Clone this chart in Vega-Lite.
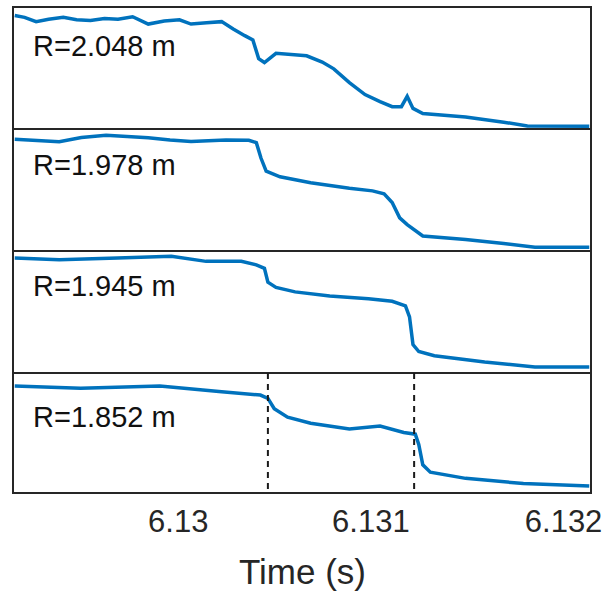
{
  "$schema": "https://vega.github.io/schema/vega-lite/v6.json",
  "padding": {"left": 12, "top": 6, "right": 0, "bottom": 0},
  "spacing": 0,
  "bounds": "flush",
  "config": {
    "view": {"stroke": "#262626", "strokeWidth": 2},
    "font": "Liberation Sans"
  },
  "datasets": {
    "curves": [
      {"panel": 1, "t": 6.129154, "v": 0.93}, {"panel": 1, "t": 6.129205, "v": 0.915}, {"panel": 1, "t": 6.129265, "v": 0.88}, {"panel": 1, "t": 6.12933, "v": 0.9}, {"panel": 1, "t": 6.129406, "v": 0.915}, {"panel": 1, "t": 6.129475, "v": 0.895}, {"panel": 1, "t": 6.129547, "v": 0.89}, {"panel": 1, "t": 6.12962, "v": 0.905}, {"panel": 1, "t": 6.12969, "v": 0.9}, {"panel": 1, "t": 6.129766, "v": 0.92}, {"panel": 1, "t": 6.129847, "v": 0.86}, {"panel": 1, "t": 6.12993, "v": 0.885}, {"panel": 1, "t": 6.130009, "v": 0.895}, {"panel": 1, "t": 6.130069, "v": 0.86}, {"panel": 1, "t": 6.13015, "v": 0.87}, {"panel": 1, "t": 6.130228, "v": 0.88}, {"panel": 1, "t": 6.130288, "v": 0.82}, {"panel": 1, "t": 6.130348, "v": 0.765}, {"panel": 1, "t": 6.13039, "v": 0.73}, {"panel": 1, "t": 6.13042, "v": 0.577}, {"panel": 1, "t": 6.13045, "v": 0.545}, {"panel": 1, "t": 6.13051, "v": 0.62}, {"panel": 1, "t": 6.130669, "v": 0.6}, {"panel": 1, "t": 6.13075, "v": 0.549}, {"panel": 1, "t": 6.13081, "v": 0.493}, {"panel": 1, "t": 6.130891, "v": 0.38}, {"panel": 1, "t": 6.130972, "v": 0.282}, {"panel": 1, "t": 6.13105, "v": 0.225}, {"panel": 1, "t": 6.131113, "v": 0.183}, {"panel": 1, "t": 6.131161, "v": 0.183}, {"panel": 1, "t": 6.131191, "v": 0.268}, {"panel": 1, "t": 6.131221, "v": 0.169}, {"panel": 1, "t": 6.131272, "v": 0.127}, {"panel": 1, "t": 6.131494, "v": 0.099}, {"panel": 1, "t": 6.131692, "v": 0.056}, {"panel": 1, "t": 6.131815, "v": 0.025}, {"panel": 1, "t": 6.132136, "v": 0.022},
      {"panel": 2, "t": 6.129154, "v": 0.916}, {"panel": 2, "t": 6.129385, "v": 0.896}, {"panel": 2, "t": 6.1295, "v": 0.93}, {"panel": 2, "t": 6.129628, "v": 0.948}, {"panel": 2, "t": 6.129847, "v": 0.928}, {"panel": 2, "t": 6.129960, "v": 0.91}, {"panel": 2, "t": 6.130069, "v": 0.898}, {"panel": 2, "t": 6.130250, "v": 0.91}, {"panel": 2, "t": 6.130369, "v": 0.908}, {"panel": 2, "t": 6.130408, "v": 0.888}, {"panel": 2, "t": 6.130432, "v": 0.762}, {"panel": 2, "t": 6.130459, "v": 0.655}, {"panel": 2, "t": 6.130531, "v": 0.608}, {"panel": 2, "t": 6.13069, "v": 0.56}, {"panel": 2, "t": 6.130891, "v": 0.515}, {"panel": 2, "t": 6.131011, "v": 0.493}, {"panel": 2, "t": 6.131071, "v": 0.468}, {"panel": 2, "t": 6.131113, "v": 0.398}, {"panel": 2, "t": 6.131152, "v": 0.272}, {"panel": 2, "t": 6.131191, "v": 0.216}, {"panel": 2, "t": 6.131272, "v": 0.123}, {"panel": 2, "t": 6.131494, "v": 0.095}, {"panel": 2, "t": 6.131692, "v": 0.062}, {"panel": 2, "t": 6.131854, "v": 0.03}, {"panel": 2, "t": 6.132136, "v": 0.03},
      {"panel": 3, "t": 6.129154, "v": 0.943}, {"panel": 3, "t": 6.129385, "v": 0.929}, {"panel": 3, "t": 6.129688, "v": 0.943}, {"panel": 3, "t": 6.129967, "v": 0.957}, {"panel": 3, "t": 6.130147, "v": 0.915}, {"panel": 3, "t": 6.13033, "v": 0.915}, {"panel": 3, "t": 6.130408, "v": 0.886}, {"panel": 3, "t": 6.13045, "v": 0.858}, {"panel": 3, "t": 6.130468, "v": 0.744}, {"panel": 3, "t": 6.13051, "v": 0.702}, {"panel": 3, "t": 6.130609, "v": 0.665}, {"panel": 3, "t": 6.130789, "v": 0.631}, {"panel": 3, "t": 6.13099, "v": 0.608}, {"panel": 3, "t": 6.131113, "v": 0.588}, {"panel": 3, "t": 6.131182, "v": 0.551}, {"panel": 3, "t": 6.131203, "v": 0.46}, {"panel": 3, "t": 6.131221, "v": 0.233}, {"panel": 3, "t": 6.131251, "v": 0.176}, {"panel": 3, "t": 6.131332, "v": 0.142}, {"panel": 3, "t": 6.131593, "v": 0.091}, {"panel": 3, "t": 6.131854, "v": 0.05}, {"panel": 3, "t": 6.132136, "v": 0.05},
      {"panel": 4, "t": 6.129154, "v": 0.892}, {"panel": 4, "t": 6.129496, "v": 0.873}, {"panel": 4, "t": 6.129907, "v": 0.892}, {"panel": 4, "t": 6.130228, "v": 0.844}, {"panel": 4, "t": 6.130429, "v": 0.816}, {"panel": 4, "t": 6.130468, "v": 0.788}, {"panel": 4, "t": 6.130501, "v": 0.703}, {"panel": 4, "t": 6.13057, "v": 0.632}, {"panel": 4, "t": 6.13069, "v": 0.581}, {"panel": 4, "t": 6.130891, "v": 0.533}, {"panel": 4, "t": 6.13105, "v": 0.558}, {"panel": 4, "t": 6.131173, "v": 0.504}, {"panel": 4, "t": 6.131233, "v": 0.49}, {"panel": 4, "t": 6.131251, "v": 0.405}, {"panel": 4, "t": 6.131272, "v": 0.235}, {"panel": 4, "t": 6.131311, "v": 0.173}, {"panel": 4, "t": 6.131494, "v": 0.122}, {"panel": 4, "t": 6.131794, "v": 0.079}, {"panel": 4, "t": 6.132136, "v": 0.059}
    ],
    "labels": [
      {"panel": 1, "label": "R=2.048 m", "t": 6.129249, "v": 0.6},
      {"panel": 2, "label": "R=1.978 m", "t": 6.129249, "v": 0.62},
      {"panel": 3, "label": "R=1.945 m", "t": 6.129249, "v": 0.63},
      {"panel": 4, "label": "R=1.852 m", "t": 6.129249, "v": 0.55}
    ],
    "events": [{"t": 6.130468}, {"t": 6.131227}]
  },
  "vconcat": [
    {
      "width": 578, "height": 122,
      "layer": [
        {"data": {"name": "curves"}, "transform": [{"filter": "datum.panel == 1"}], "mark": {"type": "line", "color": "#0072BD", "strokeWidth": 3.5, "clip": true},
         "encoding": {"x": {"field": "t", "type": "quantitative", "scale": {"domain": [6.129145, 6.132145], "nice": false, "zero": false}, "axis": null}, "y": {"field": "v", "type": "quantitative", "scale": {"domain": [0, 1], "nice": false}, "axis": null}}},
        {"data": {"name": "labels"}, "transform": [{"filter": "datum.panel == 1"}], "mark": {"type": "text", "align": "left", "baseline": "alphabetic", "fontSize": 29, "color": "#111111"},
         "encoding": {"x": {"field": "t", "type": "quantitative"}, "y": {"field": "v", "type": "quantitative"}, "text": {"field": "label"}}}
      ]
    },
    {
      "width": 578, "height": 122,
      "layer": [
        {"data": {"name": "curves"}, "transform": [{"filter": "datum.panel == 2"}], "mark": {"type": "line", "color": "#0072BD", "strokeWidth": 3.5, "clip": true},
         "encoding": {"x": {"field": "t", "type": "quantitative", "scale": {"domain": [6.129145, 6.132145], "nice": false, "zero": false}, "axis": null}, "y": {"field": "v", "type": "quantitative", "scale": {"domain": [0, 1], "nice": false}, "axis": null}}},
        {"data": {"name": "labels"}, "transform": [{"filter": "datum.panel == 2"}], "mark": {"type": "text", "align": "left", "baseline": "alphabetic", "fontSize": 29, "color": "#111111"},
         "encoding": {"x": {"field": "t", "type": "quantitative"}, "y": {"field": "v", "type": "quantitative"}, "text": {"field": "label"}}}
      ]
    },
    {
      "width": 578, "height": 122,
      "layer": [
        {"data": {"name": "curves"}, "transform": [{"filter": "datum.panel == 3"}], "mark": {"type": "line", "color": "#0072BD", "strokeWidth": 3.5, "clip": true},
         "encoding": {"x": {"field": "t", "type": "quantitative", "scale": {"domain": [6.129145, 6.132145], "nice": false, "zero": false}, "axis": null}, "y": {"field": "v", "type": "quantitative", "scale": {"domain": [0, 1], "nice": false}, "axis": null}}},
        {"data": {"name": "labels"}, "transform": [{"filter": "datum.panel == 3"}], "mark": {"type": "text", "align": "left", "baseline": "alphabetic", "fontSize": 29, "color": "#111111"},
         "encoding": {"x": {"field": "t", "type": "quantitative"}, "y": {"field": "v", "type": "quantitative"}, "text": {"field": "label"}}}
      ]
    },
    {
      "width": 578, "height": 120,
      "layer": [
        {"data": {"name": "curves"}, "transform": [{"filter": "datum.panel == 4"}], "mark": {"type": "line", "color": "#0072BD", "strokeWidth": 3.5, "clip": true},
         "encoding": {"x": {"field": "t", "type": "quantitative", "scale": {"domain": [6.129145, 6.132145], "nice": false, "zero": false},
           "axis": {"title": "Time (s)", "values": [6.13, 6.131, 6.132], "format": ".3~f", "ticks": false, "domain": false, "grid": false, "labelFontSize": 31, "labelColor": "#262626", "labelPadding": 14, "titleFontSize": 35, "titleFontWeight": "normal", "titleColor": "#262626", "titlePadding": 18, "labelFlush": false}},
           "y": {"field": "v", "type": "quantitative", "scale": {"domain": [0, 1], "nice": false}, "axis": null}}},
        {"data": {"name": "events"}, "mark": {"type": "rule", "color": "#1a1a1a", "strokeWidth": 2, "strokeDash": [6, 5]},
         "encoding": {"x": {"field": "t", "type": "quantitative"}}},
        {"data": {"name": "labels"}, "transform": [{"filter": "datum.panel == 4"}], "mark": {"type": "text", "align": "left", "baseline": "alphabetic", "fontSize": 29, "color": "#111111"},
         "encoding": {"x": {"field": "t", "type": "quantitative"}, "y": {"field": "v", "type": "quantitative"}, "text": {"field": "label"}}}
      ]
    }
  ]
}
